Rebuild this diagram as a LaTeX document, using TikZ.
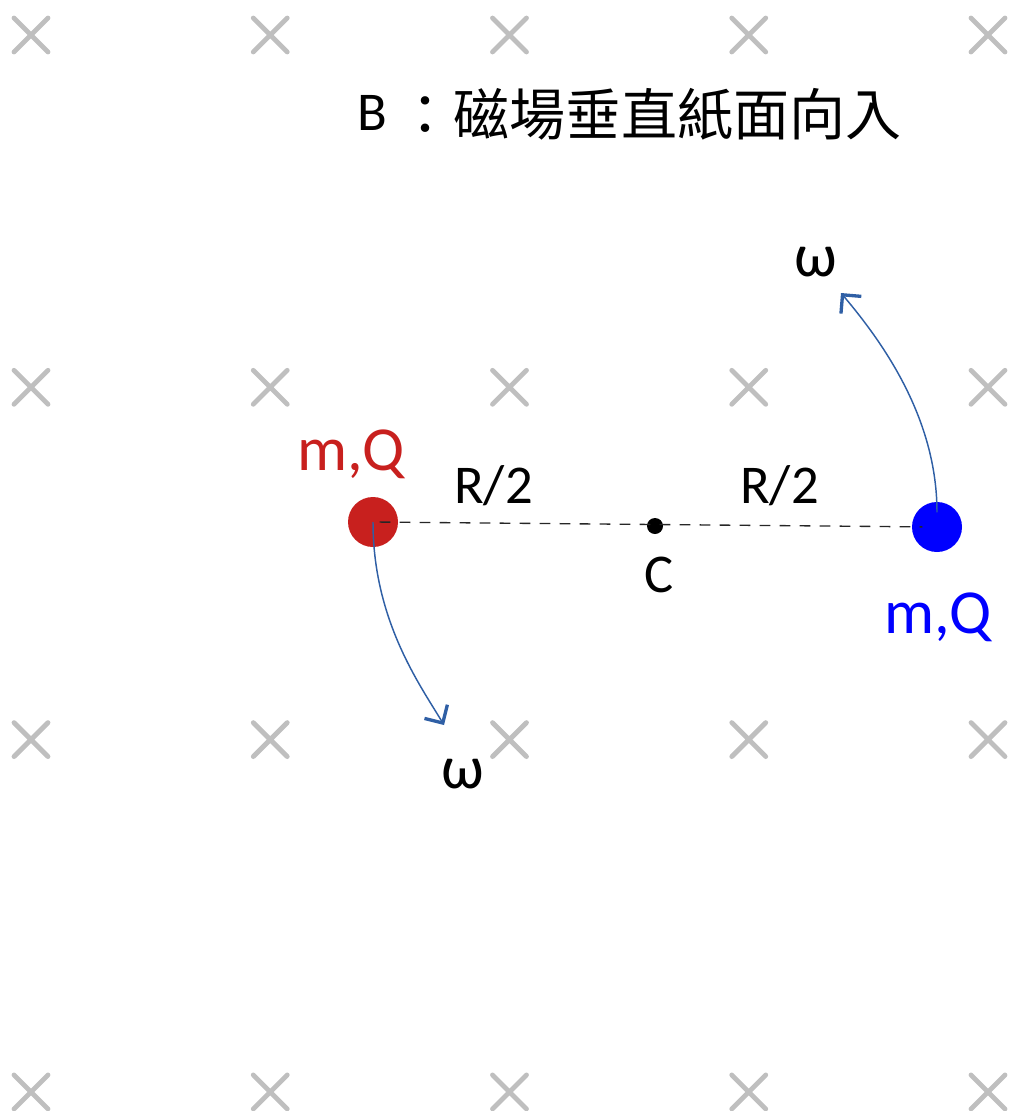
\documentclass[tikz,border=0pt]{standalone}
\usepackage{fontspec}
\setmainfont{Carlito}
\newfontfamily\cjk{Noto Sans CJK TC}
\usetikzlibrary{arrows.meta}
\definecolor{crossgray}{RGB}{191,191,191}
\definecolor{redq}{RGB}{200,32,30}
\definecolor{blueq}{RGB}{0,0,255}
\definecolor{arcblue}{RGB}{47,95,165}
\begin{document}
\begin{tikzpicture}[x=0.75pt,y=-0.75pt,
  crossmark/.style={draw=crossgray,line width=3.6pt,line cap=round},
  lbl/.style={inner sep=0pt,anchor=base,font=\fontsize{41}{46}\selectfont},
  biglbl/.style={inner sep=0pt,anchor=base,font=\fontsize{47}{52}\selectfont},
  omlbl/.style={inner sep=0pt,anchor=base,font=\fontsize{46}{50}\selectfont},
  ball/.style={circle,inner sep=0pt,minimum size=37.5pt},
  omegaarc/.style={draw=arcblue,line width=1.1pt,
     -{Straight Barb[length=10pt,width=20pt,line width=2.5pt]}},
  sepline/.style={draw=black!85,line width=1pt,dash pattern=on 8pt off 7pt}]
\useasboundingbox (0,0) rectangle (1011,1111);
% background crosses
\foreach \i in {0,...,4}{
  \foreach \j in {0,...,3}{
    \pgfmathsetmacro{\cx}{31+239.25*\i}
    \pgfmathsetmacro{\cy}{35+352.3*\j}
    \draw[crossmark] (\cx-17,\cy-17) -- (\cx+17,\cy+17)
                     (\cx-17,\cy+17) -- (\cx+17,\cy-17);
  }
}
% title
\node[inner sep=0pt,anchor=base west,font=\fontsize{41}{46}\selectfont] (tB) at (357,130) {B};
\node[inner sep=0pt,anchor=base west,font=\cjk\fontsize{42}{46}\selectfont] (tT) at (397,135) {：磁場垂直紙面向入};
% red arc (under the ball)
\coordinate (rt) at (444,725);
\coordinate (bt) at (841,293);
\node[ball,fill=redq] (r) at (373,522) {};
\draw[omegaarc] (r.center) .. controls (373,620) and (420,685) .. (rt);
\node[ball,fill=blueq] (b) at (937,527) {};
\node[circle,fill=black,inner sep=0pt,minimum size=12pt] (c) at (655,526) {};
\draw[sepline,shorten <=5pt,shorten >=11pt] (r.center) -- (b.center);
\draw[omegaarc,shorten <=11pt] (b.center) .. controls (937,420) and (885,345) .. (bt);
% labels
\node[biglbl,text=redq] (rl) at (351,470) {m,Q};
\node[biglbl,text=blueq] (bl) at (938,633) {m,Q};
\node[lbl] (h1) at (493.5,503) {R/2};
\node[lbl] (h2) at (779.5,503) {R/2};
\node[lbl] (cl) at (659,592) {C};
\node[omlbl] (w1) at (816,276) {ω};
\node[omlbl] (w2) at (463,788) {ω};
\end{tikzpicture}
\end{document}
